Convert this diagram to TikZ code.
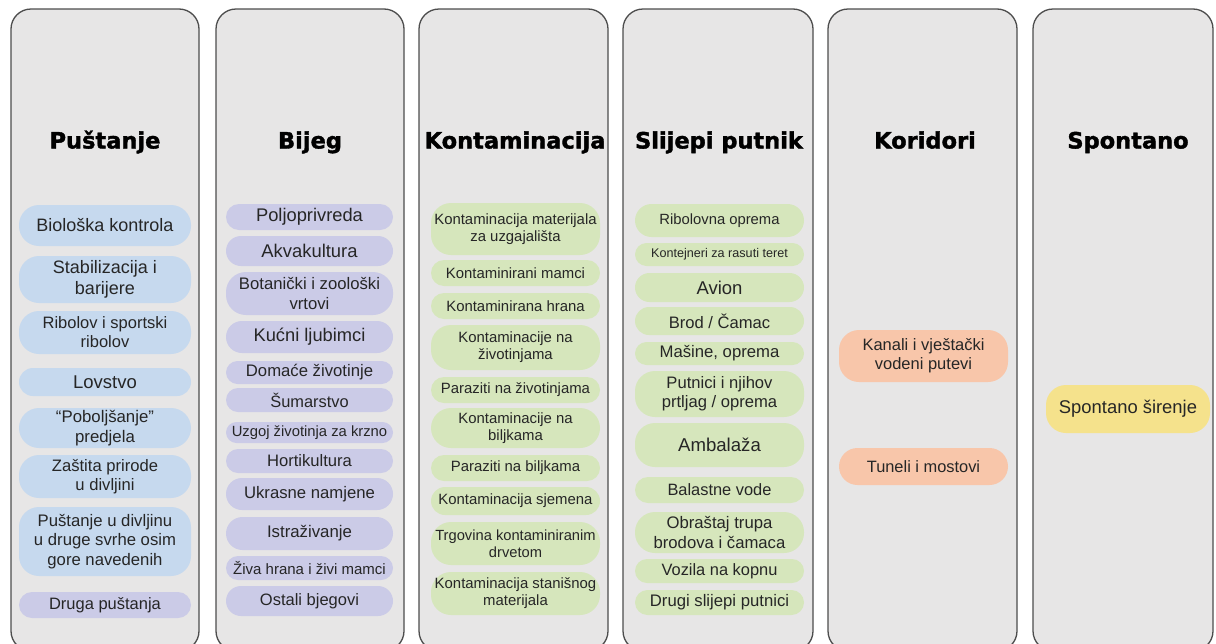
\documentclass[tikz,border=0pt]{standalone}
\usepackage{fontspec}
\setmainfont{Liberation Sans}
\newfontfamily\headfont{DejaVu Sans}[BoldFeatures={FakeBold=1.6}]
\definecolor{colfill}{HTML}{E7E6E6}
\definecolor{colline}{HTML}{4D4D4D}
\definecolor{txtgray}{HTML}{262626}
\definecolor{cblue}{HTML}{C6D9EE}
\definecolor{cpurple}{HTML}{CBCBE7}
\definecolor{cgreen}{HTML}{D6E6BC}
\definecolor{corange}{HTML}{F8C6AA}
\definecolor{cyellow}{HTML}{F5E28C}
\tikzset{
  colbox/.style={draw=colline, line width=1.3pt, fill=colfill, rounded corners=20pt, inner sep=0pt},
  headtext/.style={anchor=base, text=black, font={\headfont\bfseries\fontsize{22.5pt}{26pt}\selectfont}},
  itembox/.style={inner sep=0pt, align=center, text=txtgray}
}
% name, colour, left, right, top, bottom, font size, text
\newcommand\pbox[8]{%
  \pgfmathsetmacro\bw{#4-#3}%
  \pgfmathsetmacro\bh{#6-#5}%
  \pgfmathsetmacro\br{min(\bh/2,20)}%
  \pgfmathsetmacro\bls{#7*1.15}%
  \pgfmathsetmacro\bx{(#3+#4)/2}%
  \pgfmathsetmacro\by{(#5+#6)/2}%
  \node[itembox, fill=#2, minimum width=\bw pt, minimum height=\bh pt, rounded corners=\br pt,
        font={\fontsize{#7pt}{\bls pt}\selectfont}] (#1) at (\bx,\by) {#8};%
}
\begin{document}
\begin{tikzpicture}[x=1pt,y=-1pt]
\useasboundingbox (0,0) rectangle (1216,643);
\clip (0,0) rectangle (1216,643);
\fill[white] (0,0) rectangle (1216,643);

% columns (top 9, bottom 651, clipped at 643)
\node[colbox, minimum width=188pt, minimum height=642pt] (c1) at (105,330) {};
\node[colbox, minimum width=188pt, minimum height=642pt] (c2) at (310,330) {};
\node[colbox, minimum width=189pt, minimum height=642pt] (c3) at (513.5,330) {};
\node[colbox, minimum width=190pt, minimum height=642pt] (c4) at (718,330) {};
\node[colbox, minimum width=189pt, minimum height=642pt] (c5) at (922.5,330) {};
\node[colbox, minimum width=180pt, minimum height=642pt] (c6) at (1123,330) {};

% headings
\node[headtext] (h1) at (105,148.5) {Puštanje};
\node[headtext] (h2) at (310,148.5) {Bijeg};
\node[headtext] (h3) at (515,148.5) {Kontaminacija};
\node[headtext] (h4) at (719,148.5) {Slijepi putnik};
\node[headtext] (h5) at (925,148.5) {Koridori};
\node[headtext] (h6) at (1128,148.5) {Spontano};

% column 1
\pbox{b11}{cblue}{19}{191}{205}{246}{18}{Biološka kontrola}
\pbox{b12}{cblue}{19}{191}{256}{303}{18}{Stabilizacija i\\barijere}
\pbox{b13}{cblue}{19}{191}{311}{354}{16.5}{Ribolov i sportski\\ribolov}
\pbox{b14}{cblue}{19}{191}{368}{396}{18.5}{Lovstvo}
\pbox{b15}{cblue}{19}{191}{408}{448}{16.8}{“Poboljšanje”\\predjela}
\pbox{b16}{cblue}{19}{191}{455}{498}{16.6}{Zaštita prirode\\u divljini}
\pbox{b17}{cblue}{19}{191}{507}{576}{16.7}{Puštanje u divljinu\\u druge svrhe osim\\gore navedenih}
\pbox{b18}{cpurple}{19}{191}{592}{618}{16.5}{Druga puštanja}

% column 2
\pbox{b21}{cpurple}{226}{393}{204}{230}{18.3}{Poljoprivreda}
\pbox{b22}{cpurple}{226}{393}{236}{266}{18.4}{Akvakultura}
\pbox{b23}{cpurple}{226}{393}{272}{315}{16.7}{Botanički i zoološki\\vrtovi}
\pbox{b24}{cpurple}{226}{393}{321}{353}{18.3}{Kućni ljubimci}
\pbox{b25}{cpurple}{226}{393}{361}{384}{16.7}{Domaće životinje}
\pbox{b26}{cpurple}{226}{393}{388}{412}{16.4}{Šumarstvo}
\pbox{b27}{cpurple}{226}{393}{422}{443}{14.8}{Uzgoj životinja za krzno}
\pbox{b28}{cpurple}{226}{393}{449}{473}{16.6}{Hortikultura}
\pbox{b29}{cpurple}{226}{393}{478}{510}{16.7}{Ukrasne namjene}
\pbox{b2a}{cpurple}{226}{393}{517}{550}{16.8}{Istraživanje}
\pbox{b2b}{cpurple}{226}{393}{556}{580}{15}{Živa hrana i živi mamci}
\pbox{b2c}{cpurple}{226}{393}{586}{616}{16.5}{Ostali bjegovi}

% column 3
\pbox{b31}{cgreen}{431}{600}{203}{255}{14.9}{Kontaminacija materijala\\za uzgajališta}
\pbox{b32}{cgreen}{431}{600}{260}{286}{14.9}{Kontaminirani mamci}
\pbox{b33}{cgreen}{431}{600}{293}{319}{14.9}{Kontaminirana hrana}
\pbox{b34}{cgreen}{431}{600}{325}{370}{14.9}{Kontaminacije na\\životinjama}
\pbox{b35}{cgreen}{431}{600}{377}{403}{14.9}{Paraziti na životinjama}
\pbox{b36}{cgreen}{431}{600}{408}{448}{14.9}{Kontaminacije na\\biljkama}
\pbox{b37}{cgreen}{431}{600}{455}{481}{14.9}{Paraziti na biljkama}
\pbox{b38}{cgreen}{431}{600}{487}{515}{14.9}{Kontaminacija sjemena}
\pbox{b39}{cgreen}{431}{600}{522}{565}{14.7}{Trgovina kontaminiranim\\drvetom}
\pbox{b3a}{cgreen}{431}{600}{572}{615}{14.9}{Kontaminacija stanišnog\\materijala}

% column 4
\pbox{b41}{cgreen}{635}{804}{204}{237}{14.8}{Ribolovna oprema}
\pbox{b42}{cgreen}{635}{804}{243}{266}{12.6}{Kontejneri za rasuti teret}
\pbox{b43}{cgreen}{635}{804}{273}{302}{18.5}{Avion}
\pbox{b44}{cgreen}{635}{804}{307}{335}{16.6}{Brod / Čamac}
\pbox{b45}{cgreen}{635}{804}{342}{365}{16.7}{Mašine, oprema}
\pbox{b46}{cgreen}{635}{804}{371}{417}{16.6}{Putnici i njihov\\prtljag / oprema}
\pbox{b47}{cgreen}{635}{804}{423}{467}{18.6}{Ambalaža}
\pbox{b48}{cgreen}{635}{804}{477}{503}{16.4}{Balastne vode}
\pbox{b49}{cgreen}{635}{804}{512}{553}{16.7}{Obraštaj trupa\\brodova i čamaca}
\pbox{b4a}{cgreen}{635}{804}{559}{583}{16.4}{Vozila na kopnu}
\pbox{b4b}{cgreen}{635}{804}{590}{615}{16.7}{Drugi slijepi putnici}

% column 5
\pbox{b51}{corange}{839}{1008}{330}{382}{16.5}{Kanali i vještački\\vodeni putevi}
\pbox{b52}{corange}{839}{1008}{448}{485}{16.4}{Tuneli i mostovi}

% column 6
\pbox{b61}{cyellow}{1046}{1210}{385}{433}{18.4}{Spontano širenje}
\end{tikzpicture}
\end{document}
